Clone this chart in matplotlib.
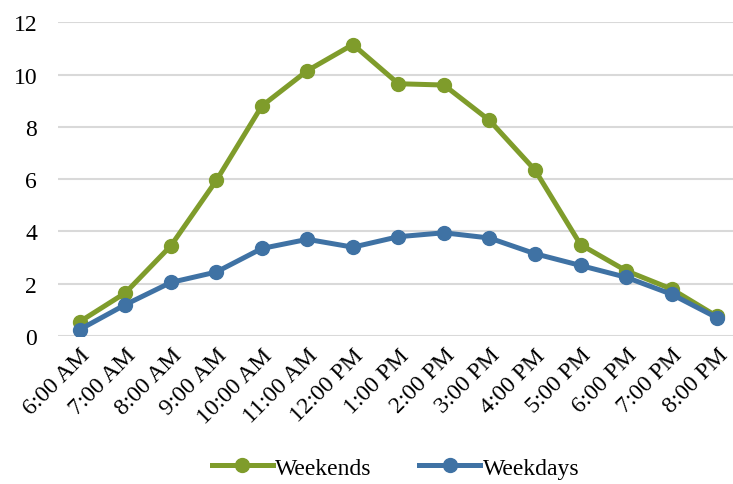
import numpy as np
import matplotlib.pyplot as plt

# hourly values
hours = ['6:00 AM', '7:00 AM', '8:00 AM', '9:00 AM', '10:00 AM', '11:00 AM',
         '12:00 PM', '1:00 PM', '2:00 PM', '3:00 PM', '4:00 PM', '5:00 PM',
         '6:00 PM', '7:00 PM', '8:00 PM']
weekends = [0.55, 1.65, 3.45, 5.95, 8.8, 10.15, 11.15, 9.65, 9.6, 8.25, 6.35, 3.5, 2.5, 1.8, 0.75]
weekdays = [0.25, 1.2, 2.05, 2.45, 3.35, 3.7, 3.4, 3.8, 3.95, 3.75, 3.15, 2.7, 2.25, 1.6, 0.7]

plt.rcParams['font.family'] = ['Liberation Serif', 'DejaVu Serif']

fig = plt.figure(figsize=(7.33, 4.85), dpi=100)
ax = fig.add_axes([0.079, 0.305, 0.921, 0.647])

x = np.arange(len(hours))
ax.plot(x, weekends, color='#7f9c2b', lw=3.6, marker='o', ms=10, label='Weekends', zorder=3)
ax.plot(x, weekdays, color='#3f72a4', lw=3.6, marker='o', ms=10, label='Weekdays', zorder=4)

ax.set_xlim(-0.48, 14.35)
ax.set_ylim(0, 12)
ax.set_yticks([0, 2, 4, 6, 8, 10, 12])
ax.yaxis.grid(True, color='#d9d9d9', lw=1.5)
ax.set_axisbelow(True)
for s in ax.spines.values():
    s.set_visible(False)
ax.tick_params(axis='both', length=0)
ax.tick_params(axis='y', pad=15, labelsize=17)
ax.tick_params(axis='x', pad=6, labelsize=17)
ax.set_xticks(x)
ax.set_xticklabels(hours, rotation=45, ha='right', va='top', rotation_mode='anchor')

ax.legend(loc='center', bbox_to_anchor=(0.5, -0.42), ncol=2, frameon=False,
          fontsize=17, handlelength=2.6, handletextpad=0.1, columnspacing=2.0)

fig.savefig('out.png', dpi=100)
